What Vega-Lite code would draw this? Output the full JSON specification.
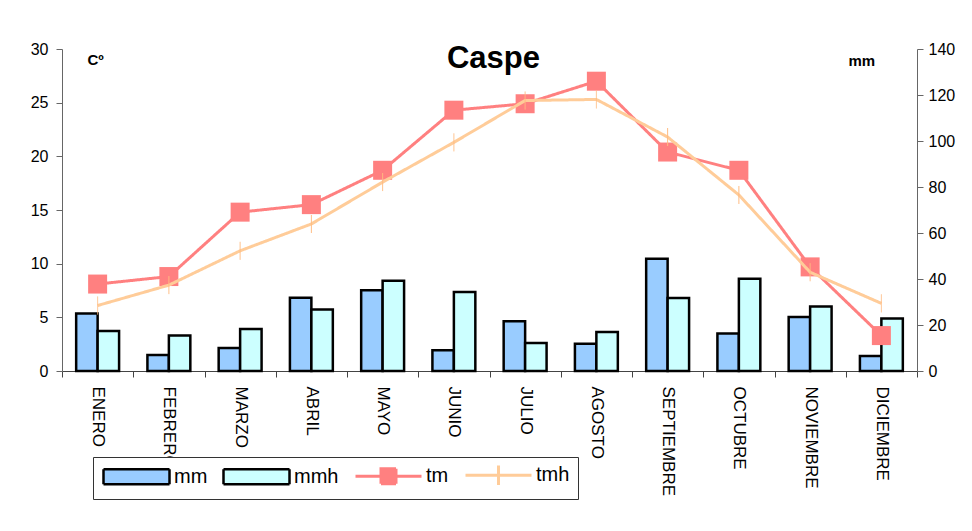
{
  "$schema": "https://vega.github.io/schema/vega-lite/v6.json",
  "width": 855,
  "height": 322,
  "autosize": {"type": "none"},
  "padding": {"left": 62, "top": 49, "right": 55, "bottom": 160},
  "background": "white",
  "config": {
    "view": {"stroke": null},
    "font": "Liberation Sans"
  },
  "title": {
    "text": "Caspe",
    "font": "Liberation Sans",
    "fontSize": 31,
    "fontWeight": "bold",
    "color": "black",
    "anchor": "middle",
    "baseline": "alphabetic",
    "offset": -58,
    "dx": 4
  },
  "data": {
    "values": [
      {"mes": "ENERO", "serie": "mm", "valor": 25.0},
      {"mes": "ENERO", "serie": "mmh", "valor": 17.4},
      {"mes": "ENERO", "serie": "tm", "valor": 8.1},
      {"mes": "ENERO", "serie": "tmh", "valor": 6.1},
      {"mes": "FEBRERO", "serie": "mm", "valor": 7.0},
      {"mes": "FEBRERO", "serie": "mmh", "valor": 15.4},
      {"mes": "FEBRERO", "serie": "tm", "valor": 8.8},
      {"mes": "FEBRERO", "serie": "tmh", "valor": 8.0},
      {"mes": "MARZO", "serie": "mm", "valor": 10.0},
      {"mes": "MARZO", "serie": "mmh", "valor": 18.3},
      {"mes": "MARZO", "serie": "tm", "valor": 14.8},
      {"mes": "MARZO", "serie": "tmh", "valor": 11.2},
      {"mes": "ABRIL", "serie": "mm", "valor": 31.8},
      {"mes": "ABRIL", "serie": "mmh", "valor": 26.7},
      {"mes": "ABRIL", "serie": "tm", "valor": 15.5},
      {"mes": "ABRIL", "serie": "tmh", "valor": 13.7},
      {"mes": "MAYO", "serie": "mm", "valor": 35.1},
      {"mes": "MAYO", "serie": "mmh", "valor": 39.2},
      {"mes": "MAYO", "serie": "tm", "valor": 18.7},
      {"mes": "MAYO", "serie": "tmh", "valor": 17.6},
      {"mes": "JUNIO", "serie": "mm", "valor": 9.0},
      {"mes": "JUNIO", "serie": "mmh", "valor": 34.3},
      {"mes": "JUNIO", "serie": "tm", "valor": 24.3},
      {"mes": "JUNIO", "serie": "tmh", "valor": 21.3},
      {"mes": "JULIO", "serie": "mm", "valor": 21.6},
      {"mes": "JULIO", "serie": "mmh", "valor": 12.2},
      {"mes": "JULIO", "serie": "tm", "valor": 24.9},
      {"mes": "JULIO", "serie": "tmh", "valor": 25.2},
      {"mes": "AGOSTO", "serie": "mm", "valor": 11.9},
      {"mes": "AGOSTO", "serie": "mmh", "valor": 17.0},
      {"mes": "AGOSTO", "serie": "tm", "valor": 27.0},
      {"mes": "AGOSTO", "serie": "tmh", "valor": 25.3},
      {"mes": "SEPTIEMBRE", "serie": "mm", "valor": 48.8},
      {"mes": "SEPTIEMBRE", "serie": "mmh", "valor": 31.7},
      {"mes": "SEPTIEMBRE", "serie": "tm", "valor": 20.4},
      {"mes": "SEPTIEMBRE", "serie": "tmh", "valor": 21.8},
      {"mes": "OCTUBRE", "serie": "mm", "valor": 16.3},
      {"mes": "OCTUBRE", "serie": "mmh", "valor": 40.1},
      {"mes": "OCTUBRE", "serie": "tm", "valor": 18.7},
      {"mes": "OCTUBRE", "serie": "tmh", "valor": 16.4},
      {"mes": "NOVIEMBRE", "serie": "mm", "valor": 23.5},
      {"mes": "NOVIEMBRE", "serie": "mmh", "valor": 28.0},
      {"mes": "NOVIEMBRE", "serie": "tm", "valor": 9.7},
      {"mes": "NOVIEMBRE", "serie": "tmh", "valor": 9.2},
      {"mes": "DICIEMBRE", "serie": "mm", "valor": 6.5},
      {"mes": "DICIEMBRE", "serie": "mmh", "valor": 22.8},
      {"mes": "DICIEMBRE", "serie": "tm", "valor": 3.3},
      {"mes": "DICIEMBRE", "serie": "tmh", "valor": 6.3}
    ]
  },
  "encoding": {
    "x": {
      "field": "mes",
      "type": "nominal",
      "sort": ["ENERO", "FEBRERO", "MARZO", "ABRIL", "MAYO", "JUNIO", "JULIO", "AGOSTO", "SEPTIEMBRE", "OCTUBRE", "NOVIEMBRE", "DICIEMBRE"],
      "scale": {"paddingInner": 0, "paddingOuter": 0},
      "axis": {
        "title": null,
        "labelAngle": 90,
        "labelAlign": "left",
        "labelBaseline": "middle",
        "tickBand": "extent",
        "tickSize": 6,
        "labelPadding": 9,
        "labelFontSize": 17,
        "labelColor": "black",
        "domainColor": "#444444",
        "tickColor": "#444444",
        "grid": false
      }
    },
    "strokeDash": {
      "field": "serie",
      "type": "nominal",
      "scale": {"domain": ["mm", "mmh", "tm", "tmh"], "range": [[1, 0], [1, 0], [1, 0], [1, 0]]},
      "legend": {
        "title": null,
        "orient": "none",
        "legendX": 31,
        "legendY": 408,
        "direction": "horizontal",
        "columns": 4,
        "columnPadding": 10,
        "padding": 8,
        "strokeColor": "#333333",
        "fillColor": "white",
        "labelFont": "Liberation Sans",
        "labelFontSize": 20,
        "labelColor": "black",
        "labelOffset": 53,
        "symbolSize": 225,
        "encoding": {
          "symbols": {
            "shape": {"value": {"expr": "datum.value === 'mm' || datum.value === 'mmh' ? 'M-1,-1H7.8V1H-1Z' : datum.value === 'tm' ? 'M-1,0H7.8M2.4,-1H4.4V1H2.4Z' : 'M-1,0H7.8M3.4,-1.3V1.3'"}},
            "fill": {"value": {"expr": "datum.value === 'mm' ? '#99CCFF' : datum.value === 'mmh' ? '#CCFFFF' : datum.value === 'tm' ? '#FF8080' : 'transparent'"}},
            "stroke": {"value": {"expr": "datum.value === 'mm' || datum.value === 'mmh' ? '#000000' : datum.value === 'tm' ? '#FF8080' : '#FFCC99'"}},
            "strokeWidth": {"value": {"expr": "datum.value === 'mm' || datum.value === 'mmh' ? 2.5 : 3"}},
            "fillOpacity": {"value": 1},
            "strokeOpacity": {"value": 1},
            "opacity": {"value": 1}
          }
        }
      }
    }
  },
  "layer": [
    {
      "transform": [{"filter": "datum.serie === 'mm' || datum.serie === 'mmh'"}],
      "mark": {"type": "bar", "stroke": "black", "strokeWidth": 2.5, "opacity": 1},
      "encoding": {
        "xOffset": {"field": "serie", "type": "nominal", "sort": ["mm", "mmh"], "scale": {"paddingOuter": 0.66, "paddingInner": 0}},
        "fill": {"condition": {"test": "datum.serie === 'mm'", "value": "#99CCFF"}, "value": "#CCFFFF"},
        "y": {
          "field": "valor",
          "type": "quantitative",
          "scale": {"domain": [0, 140], "nice": false},
          "axis": {
            "orient": "right",
            "values": [0, 20, 40, 60, 80, 100, 120, 140],
            "title": "mm",
            "titleAngle": 0,
            "titleX": -69,
            "titleY": 16,
            "titleAlign": "left",
            "titleBaseline": "alphabetic",
            "titleFontSize": 15,
            "titleFontWeight": "bold",
            "titleColor": "black",
            "grid": false,
            "tickSize": 6,
            "labelPadding": 5,
            "labelFontSize": 16,
            "labelColor": "black",
            "domainColor": "#666666",
            "tickColor": "#666666"
          }
        }
      }
    },
    {
      "transform": [{"filter": "datum.serie === 'tm' || datum.serie === 'tmh'"}],
      "encoding": {
        "y": {
          "field": "valor",
          "type": "quantitative",
          "scale": {"domain": [0, 30], "nice": false},
          "axis": {
            "orient": "left",
            "values": [0, 5, 10, 15, 20, 25, 30],
            "title": "Cº",
            "titleAngle": 0,
            "titleX": 25,
            "titleY": 15,
            "titleAlign": "left",
            "titleBaseline": "alphabetic",
            "titleFontSize": 15,
            "titleFontWeight": "bold",
            "titleColor": "black",
            "grid": false,
            "tickSize": 6,
            "labelPadding": 8,
            "labelFontSize": 16,
            "labelColor": "black",
            "domainColor": "#666666",
            "tickColor": "#666666"
          }
        }
      },
      "layer": [
        {
          "transform": [{"filter": "datum.serie === 'tm'"}],
          "mark": {"type": "line", "strokeWidth": 3, "color": "#FF8080", "opacity": 1}
        },
        {
          "transform": [{"filter": "datum.serie === 'tm'"}],
          "mark": {"type": "point", "shape": "square", "filled": true, "size": 361, "color": "#FF8080", "opacity": 1}
        },
        {
          "transform": [{"filter": "datum.serie === 'tmh'"}],
          "mark": {"type": "line", "strokeWidth": 3, "color": "#FFCC99", "opacity": 1}
        },
        {
          "transform": [{"filter": "datum.serie === 'tmh'"}],
          "mark": {"type": "point", "shape": "M0,-1V1", "filled": false, "size": 324, "strokeWidth": 1, "color": "#FFBB80", "opacity": 1}
        }
      ]
    }
  ],
  "resolve": {"scale": {"y": "independent"}}
}
